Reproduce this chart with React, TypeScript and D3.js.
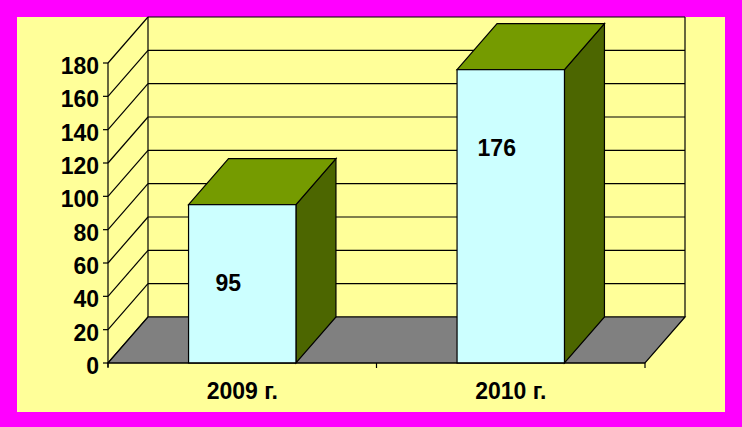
import React, { useEffect } from "react";
import * as d3 from "d3";

const categories = ["2009 г.", "2010 г."];
const values = [95, 176];
const yTicks = [0, 20, 40, 60, 80, 100, 120, 140, 160, 180];

const W = 742;
const H = 427;
const DX = 40;
const DY = -46;
const FONT = "'Liberation Sans', Arial, sans-serif";
const FS = 23;

export default function App() {
  useEffect(() => {
    document.body.style.margin = "0";
  }, []);

  const y = d3.scaleLinear().domain([0, 180]).range([363, 63]);
  const x = d3
    .scaleBand<string>()
    .domain(categories)
    .range([108, 645])
    .paddingInner(0.6)
    .paddingOuter(0.3);

  const x0 = 108;
  const x1 = 645;
  const y0 = y(0);
  const yTop = y(180);
  const line = d3.line<[number, number]>();
  const poly = (pts: [number, number][]) => line(pts) + "Z";

  return (
    <svg width={W} height={H} style={{ display: "block" }}>
      <rect x={0} y={0} width={W} height={H} fill="#FF00FF" />
      <rect x={17} y={17} width={708} height={395} fill="#FFFF99" />

      {/* back wall gridlines */}
      {yTicks.map((t) => (
        <line
          key={"g" + t}
          x1={x0 + DX}
          x2={x1 + DX}
          y1={y(t) + DY}
          y2={y(t) + DY}
          stroke="#000"
          strokeWidth={1.2}
        />
      ))}
      {/* side wall diagonals */}
      {yTicks.map((t) => (
        <line
          key={"d" + t}
          x1={x0}
          x2={x0 + DX}
          y1={y(t)}
          y2={y(t) + DY}
          stroke="#000"
          strokeWidth={1.2}
        />
      ))}
      {/* wall verticals */}
      <line x1={x0 + DX} x2={x0 + DX} y1={yTop + DY} y2={y0 + DY} stroke="#000" strokeWidth={1.2} />
      <line x1={x1 + DX} x2={x1 + DX} y1={yTop + DY} y2={y0 + DY} stroke="#000" strokeWidth={1.2} />

      {/* floor */}
      <path
        d={poly([
          [x0, y0],
          [x1, y0],
          [x1 + DX, y0 + DY],
          [x0 + DX, y0 + DY],
        ])}
        fill="#808080"
        stroke="#000"
        strokeWidth={1.2}
      />

      {/* bars */}
      {categories.map((c, i) => {
        const bx = x(c) as number;
        const bw = x.bandwidth();
        const by = y(values[i]);
        return (
          <g key={"b" + c}>
            <path
              d={poly([
                [bx + bw, y0],
                [bx + bw, by],
                [bx + bw + DX, by + DY],
                [bx + bw + DX, y0 + DY],
              ])}
              fill="#4C6600"
              stroke="#000"
              strokeWidth={1.2}
            />
            <path
              d={poly([
                [bx, by],
                [bx + bw, by],
                [bx + bw + DX, by + DY],
                [bx + DX, by + DY],
              ])}
              fill="#759B00"
              stroke="#000"
              strokeWidth={1.2}
            />
            <rect x={bx} y={by} width={bw} height={y0 - by} fill="#CCFFFF" stroke="#000" strokeWidth={1.2} />
            <text
              x={bx + bw / 2 - 14}
              y={by + 78}
              textAnchor="middle"
              dominantBaseline="central"
              fontFamily={FONT}
              fontWeight="bold"
              fontSize={FS}
              fill="#000"
            >
              {values[i]}
            </text>
          </g>
        );
      })}

      {/* axes */}
      <line x1={x0} x2={x0} y1={yTop} y2={y0 + 4} stroke="#000" strokeWidth={1.2} />
      <line x1={x0} x2={x1} y1={y0} y2={y0} stroke="#000" strokeWidth={1.2} />
      {yTicks.map((t) => (
        <g key={"t" + t}>
          <line x1={x0 - 5} x2={x0} y1={y(t)} y2={y(t)} stroke="#000" strokeWidth={1.2} />
          <text
            x={99}
            y={y(t) + 11}
            textAnchor="end"
            fontFamily={FONT}
            fontWeight="bold"
            fontSize={FS}
            fill="#000"
          >
            {t}
          </text>
        </g>
      ))}
      {[x0, (x0 + x1) / 2, x1].map((p, i) => (
        <line key={"xt" + i} x1={p} x2={p} y1={y0} y2={y0 + 5} stroke="#000" strokeWidth={1.2} />
      ))}
      {categories.map((c) => (
        <text
          key={"c" + c}
          x={(x(c) as number) + x.bandwidth() / 2}
          y={399}
          textAnchor="middle"
          fontFamily={FONT}
          fontWeight="bold"
          fontSize={FS}
          fill="#000"
        >
          {c}
        </text>
      ))}
    </svg>
  );
}
